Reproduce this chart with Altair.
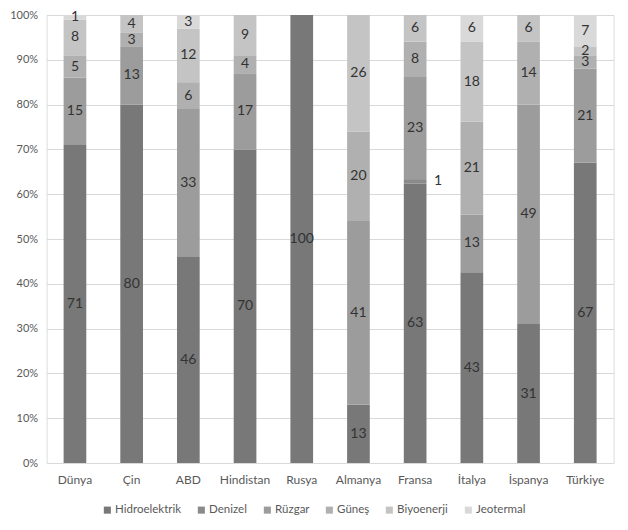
import altair as alt
import pandas as pd

countries = ["Dünya", "Çin", "ABD", "Hindistan", "Rusya", "Almanya", "Fransa", "İtalya", "İspanya", "Türkiye"]
series = ["Hidroelektrik", "Denizel", "Rüzgar", "Güneş", "Biyoenerji", "Jeotermal"]
colors = ["#787878", "#8a8a8a", "#9c9c9c", "#b0b0b0", "#c4c4c4", "#d9d9d9"]

hidroelektrik = [71, 80, 46, 70, 100, 13, 63, 43, 31, 67]
denizel       = [0, 0, 0, 0, 0, 0, 1, 0, 0, 0]
ruzgar        = [15, 13, 33, 17, 0, 41, 23, 13, 49, 21]
gunes         = [5, 3, 6, 4, 0, 20, 8, 21, 14, 3]
biyoenerji    = [8, 4, 12, 9, 0, 26, 6, 18, 6, 2]
jeotermal     = [1, 0, 3, 0, 0, 0, 0, 6, 0, 7]

values = [hidroelektrik, denizel, ruzgar, gunes, biyoenerji, jeotermal]
rows = []
for si, (s, vals) in enumerate(zip(series, values)):
    for c, v in zip(countries, vals):
        rows.append({"country": c, "series": s, "order": si, "value": v})
df = pd.DataFrame(rows)

font = "Lato"

base = alt.Chart(df).transform_stack(
    stack="value", groupby=["country"], sort=[alt.SortField("order", order="ascending")],
    as_=["v0", "v1"], offset="normalize"
).transform_calculate(mid="(datum.v0 + datum.v1) / 2")

x = alt.X("country:N", sort=countries, title=None,
          scale=alt.Scale(paddingInner=0.6, paddingOuter=0.3),
          axis=alt.Axis(labelAngle=0, labelFont=font, labelFontSize=12, labelColor="#595959",
                        domainColor="#d9d9d9", ticks=False, labelPadding=11))

bars = base.mark_bar().encode(
    x=x,
    y=alt.Y("v0:Q", scale=alt.Scale(domain=[0, 1], nice=False), title=None,
            axis=alt.Axis(format=".0%", values=[i / 10 for i in range(11)], labelFont=font,
                          labelFontSize=11, labelColor="#595959", domain=False, ticks=False,
                          gridColor="#d9d9d9", labelPadding=9)),
    y2="v1:Q",
    color=alt.Color("series:N", sort=series, scale=alt.Scale(domain=series, range=colors),
                    legend=alt.Legend(title=None, orient="none", direction="horizontal",
                                      legendX=55, legendY=489, symbolType="square", symbolSize=50,
                                      symbolStrokeWidth=0, labelFont=font, labelFontSize=11.5,
                                      labelColor="#595959", columnPadding=14, labelOffset=2)),
    order=alt.Order("order:Q"),
)

labels_in = base.transform_filter("datum.value > 0 && datum.series != 'Denizel'").mark_text(
    font=font, fontSize=14, color="#333333", baseline="middle", align="center"
).encode(x=x, y="mid:Q", text="value:Q")

labels_out = base.transform_filter("datum.value > 0 && datum.series == 'Denizel'").mark_text(
    font=font, fontSize=14, color="#333333", baseline="middle", align="center", dx=23
).encode(x=x, y="mid:Q", text="value:Q")

chart = alt.layer(bars, labels_in, labels_out).properties(
    width=567, height=448,
    autosize=alt.AutoSizeParams(type="none"),
    padding={"left": 38.6, "top": 7, "right": 6.4, "bottom": 59},
).configure_view(stroke=None).configure(background="white")

chart.save("out.html", embed_options={"renderer": "svg", "actions": False})
